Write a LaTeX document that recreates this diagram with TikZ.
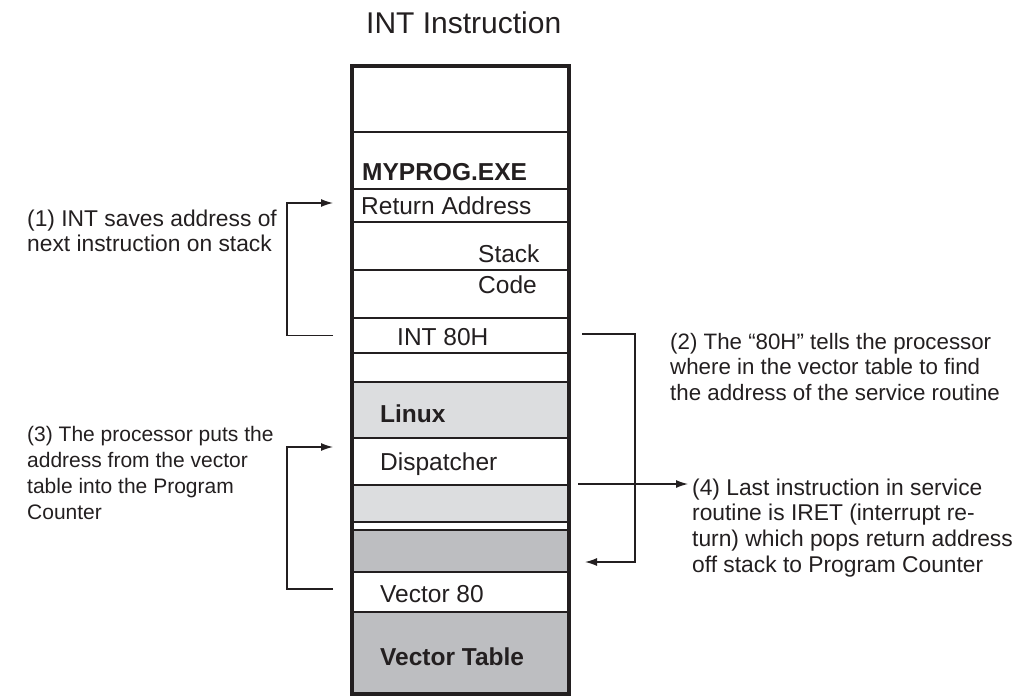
\documentclass[tikz,border=0pt]{standalone}
\usepackage{fontspec}
\setmainfont{Liberation Sans}
\usetikzlibrary{arrows.meta,calc}
\definecolor{ink}{HTML}{231F20}
\definecolor{lightg}{HTML}{DCDDDF}
\definecolor{darkg}{HTML}{BDBEC1}
\tikzset{
  rowbox/.style={draw=ink, line width=1.3pt, minimum width=217pt, inner sep=0pt, outer sep=0pt, fill=white},
  boxtxt/.style={font=\fontsize{24.5}{29}\selectfont, text=ink, inner sep=0pt, anchor=base west},
  note/.style={font=\fontsize{22.8}{25.7}\selectfont, text=ink, align=left, inner sep=0pt, anchor=north west},
  conn/.style={draw=ink, line width=1.3pt},
  arr/.style={conn, -{Latex[length=12pt,width=8pt]}}
}
\begin{document}
\begin{tikzpicture}[x=1pt,y=-1pt]
\useasboundingbox (0,0) rectangle (1024,696);
% title
\node[font=\fontsize{30}{36}\selectfont, text=ink, anchor=base west, inner sep=0pt] (title) at (366,33) {INT Instruction};
% rows of the memory map
\node[rowbox, minimum height=66pt] (r1) at (460.5,99) {};
\node[rowbox, minimum height=57pt] (r2) at (460.5,160.5) {};
\node[rowbox, minimum height=33pt] (r3) at (460.5,205.5) {};
\node[rowbox, minimum height=48pt] (r4) at (460.5,246) {};
\node[rowbox, minimum height=48pt] (r5) at (460.5,294) {};
\node[rowbox, minimum height=35pt] (r6) at (460.5,335.5) {};
\node[rowbox, minimum height=29pt] (r7) at (460.5,367.5) {};
\node[rowbox, fill=lightg, minimum height=56pt] (r8) at (460.5,410) {};
\node[rowbox, minimum height=47pt] (r9) at (460.5,461.5) {};
\node[rowbox, fill=lightg, minimum height=37pt] (r10) at (460.5,503.5) {};
\node[rowbox, minimum height=8pt] (r11) at (460.5,526) {};
\node[rowbox, fill=darkg, minimum height=42pt] (r12) at (460.5,551) {};
\node[rowbox, minimum height=40pt] (r13) at (460.5,592) {};
\node[rowbox, fill=darkg, minimum height=82pt] (r14) at (460.5,653) {};
% outer frame
\node[draw=ink, line width=4pt, minimum width=217pt, minimum height=628pt, inner sep=0pt] (frame) at (460.5,380) {};
% texts in the rows
\node[boxtxt] (tmyprog) at (362,180) {\bfseries MYPROG.EXE};
\node[boxtxt] (tret) at (361,214) {Return Address};
\node[boxtxt] (tstack) at (478,262) {Stack};
\node[boxtxt] (tcode) at (478,293) {Code};
\node[boxtxt] (tint) at (397,345) {INT 80H};
\node[boxtxt] (tlinux) at (380,422) {\bfseries Linux};
\node[boxtxt] (tdisp) at (380,470) {Dispatcher};
\node[boxtxt] (tvec) at (380,602) {Vector 80};
\node[boxtxt] (tvtab) at (380,665) {\bfseries Vector Table};
% notes
\node[note] (note1) at (27,209.4) {(1) INT saves address of\\next instruction on stack};
\node[note, font=\fontsize{21}{26}\selectfont] (note3) at (27,425.7) {(3) The processor puts the\\address from the vector\\table into the Program\\Counter};
\node[note, font=\fontsize{22.3}{25.5}\selectfont] (note2) at (670,332.8) {(2) The “80H” tells the processor\\where in the vector table to find\\the address of the service routine};
\node[note] (note4) at (692,478.4) {(4) Last instruction in service\\routine is IRET (interrupt re-\\turn) which pops return address\\off stack to Program Counter};
% connectors
\draw[arr] ([xshift=-19pt]r6.west) -- ++(-46,0) |- ([xshift=-19pt,yshift=2.5pt]r3.west);
\draw[arr] ([xshift=-19pt,yshift=3pt]r13.west) -- ++(-46,0) |- ([xshift=-19pt,yshift=14.5pt]r9.west);
\draw[arr] ([xshift=13pt,yshift=1.5pt]r6.east) -- ++(53,0) |- ([xshift=16pt,yshift=-11pt]r12.east);
\draw[arr] ([xshift=9pt,yshift=1pt]r9.south east) -- ($(r9.south east -| note4.west)+(-4,-1)$);
\end{tikzpicture}
\end{document}
